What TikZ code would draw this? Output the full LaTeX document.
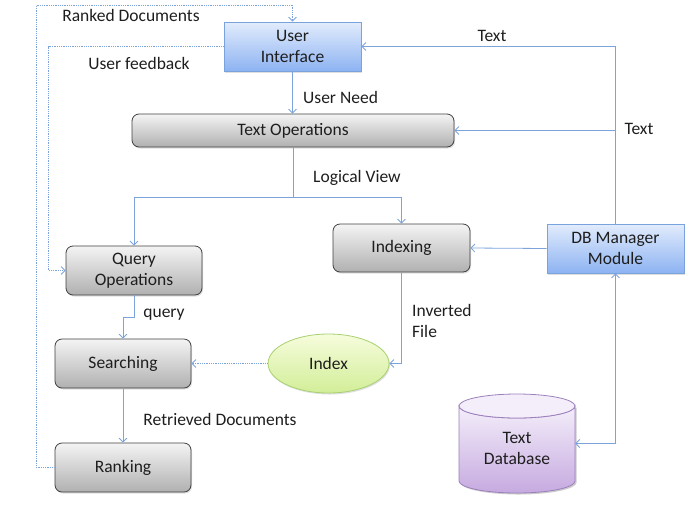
\documentclass[tikz,border=0pt]{standalone}
\usepackage{fontspec}
\setmainfont{Carlito}
\usetikzlibrary{arrows.meta,shadows,shapes.geometric}
\definecolor{lnk}{HTML}{7DA3DC}
\definecolor{txt}{HTML}{1E1E1E}
\definecolor{gtop}{HTML}{F4F4F4}
\definecolor{gbot}{HTML}{B0B0B0}
\definecolor{gbrd}{HTML}{404040}
\definecolor{btop}{HTML}{E2ECFC}
\definecolor{bbot}{HTML}{8DB3F2}
\definecolor{bbrd}{HTML}{7AA2DC}
\definecolor{etop}{HTML}{F6FCDC}
\definecolor{ebot}{HTML}{D2EE98}
\definecolor{ebrd}{HTML}{A8D070}
\definecolor{ctop}{HTML}{F4EEFA}
\definecolor{cbot}{HTML}{C6AAE0}
\definecolor{cbrd}{HTML}{9C80BC}
\tikzset{
  graybox/.style={draw=gbrd, line width=0.8pt, rounded corners=7pt, top color=gtop, bottom color=gbot,
    align=center, inner sep=0pt, text=txt,
    drop shadow={opacity=0.25, shadow xshift=1pt, shadow yshift=-1.5pt}},
  bluebox/.style={draw=bbrd, line width=0.8pt, top color=btop, bottom color=bbot,
    align=center, inner sep=0pt, text=txt,
    drop shadow={opacity=0.25, shadow xshift=1pt, shadow yshift=-1.5pt}},
  lbl/.style={text=txt, inner sep=0pt},
  conn/.style={draw=lnk, line width=0.8pt, -{Straight Barb[length=4pt,width=8pt]}},
  dconn/.style={conn, densely dotted},
}
\begin{document}
\begin{tikzpicture}[x=1pt,y=-1pt, font=\fontsize{17.5}{21}\selectfont]
\useasboundingbox (0,0) rectangle (700,525);

% nodes
\node[bluebox, minimum width=137pt, minimum height=49pt] (ui) at (292.5,46.5) {User\\Interface};
\node[graybox, minimum width=322pt, minimum height=33pt] (to) at (293,130.5) {Text Operations};
\node[graybox, minimum width=137pt, minimum height=48pt] (idx) at (401.5,248) {Indexing};
\node[bluebox, minimum width=137pt, minimum height=49pt] (dbm) at (615.5,248.5) {DB Manager\\Module};
\node[graybox, minimum width=136pt, minimum height=49pt] (qo) at (134,270.5) {Query\\Operations};
\node[graybox, minimum width=136pt, minimum height=49pt] (srch) at (123,363.5) {Searching};
\node[graybox, minimum width=136pt, minimum height=49pt] (rank) at (123,467.5) {Ranking};
\node[ellipse, draw=ebrd, line width=0.8pt, top color=etop, bottom color=ebot, minimum width=121pt, minimum height=59pt,
  inner sep=0pt, text=txt, drop shadow={opacity=0.25, shadow xshift=1pt, shadow yshift=-1.5pt}] (index) at (328.5,363.5) {Index};

% cylinder (Text Database)
\begin{scope}
\fill[black, opacity=0.2] (460.5,407.5) -- (460.5,482.5) arc[start angle=180,end angle=0,x radius=58,y radius=12] -- (576.5,407.5) -- cycle;
\shade[top color=ctop, bottom color=cbot, draw=cbrd, line width=0.8pt]
  (459,406) -- (459,481) arc[start angle=180,end angle=0,x radius=58,y radius=12] -- (575,406)
  arc[start angle=0,end angle=180,x radius=58,y radius=12] -- cycle;
\draw[draw=cbrd, line width=0.8pt, fill=ctop] (517,406) ellipse[x radius=58, y radius=12];
\end{scope}
\node[minimum width=116pt, minimum height=99pt, inner sep=0pt, align=center, text=txt] (db) at (517,443.5) {\\[0pt]Text\\Database};

% connectors
\coordinate (rtop) at (292.5,5);
\draw[dconn] (rank.west) -- ++(-18,0) |- (rtop) -- (ui.north);
\draw[dconn] (ui.west) -- ++(-175,0) |- (qo.west);
\draw[conn] (ui.south) -- (ui.south |- to.north);
\coordinate (lv) at (293,197);
\draw[conn] (to.south) -- (lv) -| (qo.north);
\draw[conn] (lv) -| (idx.north);
\draw[conn] (dbm.north) |- (ui.east);
\draw[conn] (dbm.north |- to.east) -- (to.east);
\draw[conn] (dbm.west) -- (idx.east);
\draw[conn] (idx.south) |- (index.east);
\draw[dconn] (index.west) -- (srch.east);
\draw[conn] (qo.south) -- ++(0,22) -| (srch.north);
\draw[conn] (srch.south) -- (rank.north);
\draw[conn, {Straight Barb[length=4pt,width=8pt]}-{Straight Barb[length=4pt,width=8pt]}] (dbm.south) |- (db.east);

% labels
\node[lbl] (l1) at (131,15) {Ranked Documents};
\node[lbl] (l2) at (139,63) {User feedback};
\node[lbl, anchor=west] (l3) at (303,97) {User Need};
\node[lbl] (l4) at (357,178) {Logical View};
\node[lbl] (l5) at (492,36) {Text};
\node[lbl] (l6) at (639,129) {Text};
\node[lbl, anchor=west, align=left] (l7) at (412,320.5) {Inverted\\File};
\node[lbl] (l8) at (164,315) {query};
\node[lbl] (l9) at (220,419) {Retrieved Documents};
\end{tikzpicture}
\end{document}
